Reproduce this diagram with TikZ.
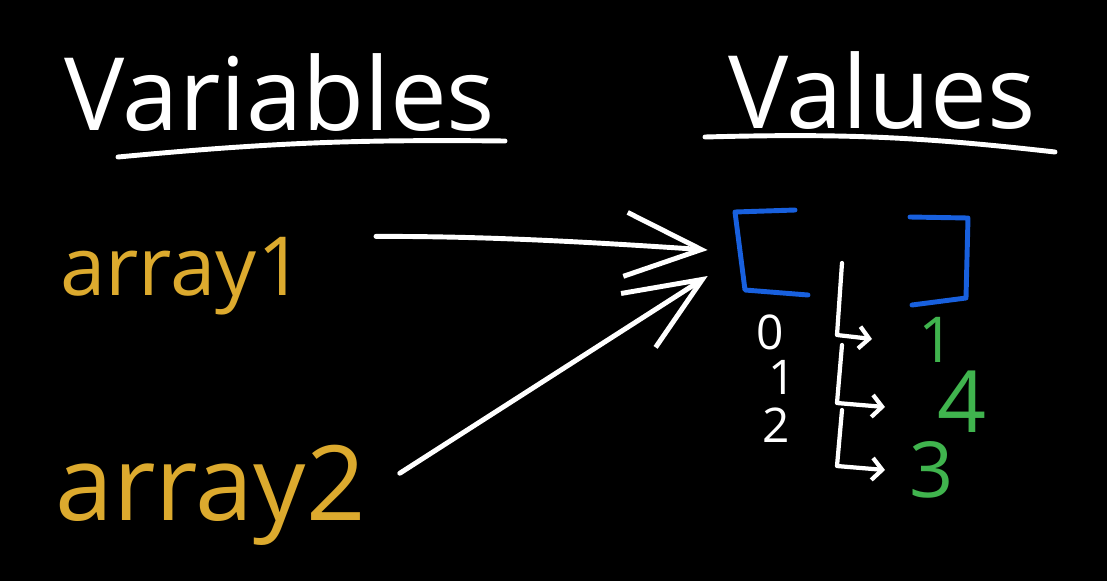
\documentclass[tikz,border=0pt]{standalone}
\usepackage{fontspec}
\setmainfont{Open Sans}
\usepackage{xcolor}
\usetikzlibrary{arrows.meta}
\definecolor{chalkgold}{RGB}{220,170,46}
\definecolor{chalkblue}{RGB}{24,96,222}
\definecolor{chalkgreen}{RGB}{64,180,78}
\tikzset{ pen/.style = {white, line width=3.5pt, line cap=round, line join=round} }
\tikzset{ title/.style = {text=white, inner sep=0pt, anchor=base, font=\fontsize{72}{72}\selectfont} }
\tikzset{ var_name/.style = {text=chalkgold, inner sep=0pt, anchor=base west} }
\tikzset{ idx/.style = {text=white, inner sep=0pt, text height=24pt, text depth=0pt, font=\fontsize{34}{34}\selectfont} }
\tikzset{ val/.style = {text=chalkgreen, inner sep=0pt, text depth=0pt} }
\tikzset{ big_arrow/.style = {pen, -{Straight Barb[length=1.9cm, width=1.6cm]}} }
\tikzset{ hook_arrow/.style = {pen, line width=3pt, -{Straight Barb[length=0.25cm, width=0.55cm]}} }

\begin{document}
\begin{tikzpicture}[x=0.025cm, y=-0.025cm]
            \fill[black] (0,0) rectangle (1107,581);
            \node [title] (vars) at (280, 130) {Variables};
            \node [title] (vals) at (882, 128) {Values};
            \draw[pen] (118,157) to[bend left=3] (505,141);
            \draw[pen] (705,137) to[bend left=4] (1055,152);
            \node [var_name, font=\fontsize{58}{58}\selectfont] (arr1) at (60, 295) {array1};
            \node [var_name, font=\fontsize{74}{74}\selectfont] (arr2) at (55, 520) {array2};
            \node [minimum width=7.2cm, minimum height=2.5cm, inner sep=0pt] (lst) at (852, 258) {};
            \draw[pen, chalkblue] (795,210) -- (735,212) -- (745,290) -- (808,295);
            \draw[pen, chalkblue] (910,217) -- (968,218) -- (966,298) -- (912,305);
            \draw[big_arrow, shorten <=1.8cm] (arr1.north east) to[bend left=2] ([yshift=0.2cm]lst.west);
            \draw[big_arrow, shorten <=1cm] (arr2.east) to ([yshift=-0.45cm]lst.west);
            \node [idx] (idx0) at (770, 333) {0};
            \node [idx] (idx1) at (782, 378) {1};
            \node [idx] (idx2) at (776, 426) {2};
            \node [val, text height=32pt, font=\fontsize{45}{45}\selectfont] (val0) at (937, 340) {1};
            \node [val, text height=44pt, font=\fontsize{61}{61}\selectfont] (val1) at (962, 402) {4};
            \node [val, text height=39pt, font=\fontsize{55}{55}\selectfont] (val2) at (932, 470) {3};
            \foreach \i/\top/\bot/\tip in {0/263/335/872, 1/345/403/885, 2/410/466/885}
                \draw[hook_arrow] (842,\top) -- (837,\bot) -- (\tip,\bot+4);
        \end{tikzpicture}
\end{document}
